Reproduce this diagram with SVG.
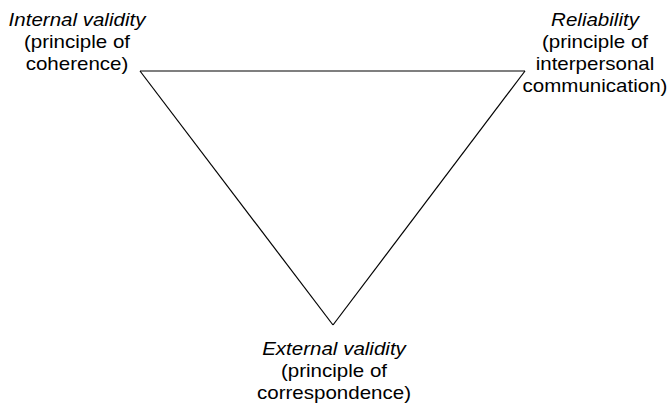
<svg xmlns="http://www.w3.org/2000/svg" width="670" height="409" viewBox="0 0 670 409">
<style>
text{font-family:"Liberation Sans",Arial,Helvetica,sans-serif;font-size:18px;fill:#000;text-anchor:middle}
.t{font-style:italic}
.edge{stroke:#000;stroke-width:1.2;fill:none}
</style>
<rect width="670" height="409" fill="#fff"/>
<g id="connectors">
<line class="edge" x1="140" y1="71" x2="525" y2="71"/>
<line class="edge" x1="525" y1="71" x2="333" y2="325"/>
<line class="edge" x1="333" y1="325" x2="140" y2="71"/>
</g>
<g id="internal" transform="translate(77,0) scale(1.14,1)">
<text class="t" x="0" y="26">Internal validity</text>
<text x="0" y="48">(principle of</text>
<text x="0" y="70">coherence)</text>
</g>
<g id="reliability" transform="translate(595,0) scale(1.14,1)">
<text class="t" x="0" y="26">Reliability</text>
<text x="0" y="48">(principle of</text>
<text x="0" y="70">interpersonal</text>
<text x="0" y="92">communication)</text>
</g>
<g id="external" transform="translate(334,0) scale(1.14,1)">
<text class="t" x="0" y="355">External validity</text>
<text x="0" y="377">(principle of</text>
<text x="0" y="399">correspondence)</text>
</g>
</svg>
